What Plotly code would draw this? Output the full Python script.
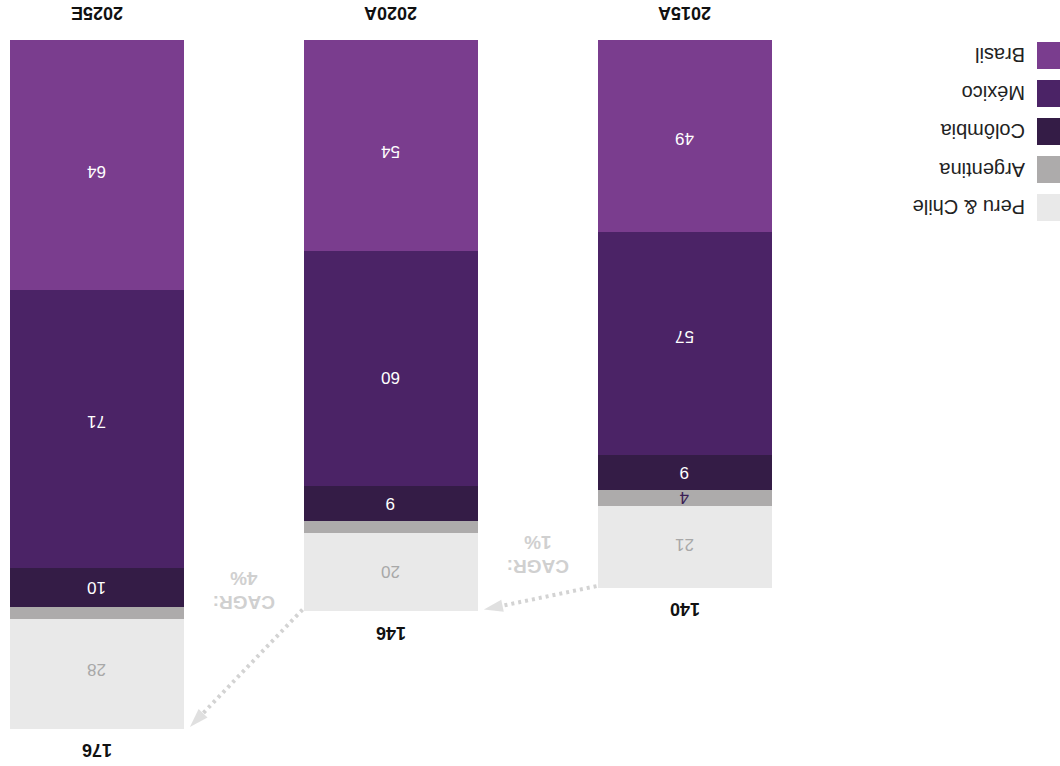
import plotly.graph_objects as go

categories = ["2015A", "2020A", "2025E"]
series_names = ["Brasil", "México", "Colômbia", "Argentina", "Peru & Chile"]
brasil = [49, 54, 64]
mexico = [57, 60, 71]
colombia = [9, 9, 10]
argentina = [4, 3, 3]
peru_chile = [21, 20, 28]
totals = [140, 146, 176]
cagr_labels = ["CAGR:<br>1%", "CAGR:<br>4%"]

series_values = [brasil, mexico, colombia, argentina, peru_chile]
colors = ["#7A3D8E", "#4B2366", "#341C46", "#ADABAB", "#E9E9E9"]
label_colors = ["#FFFFFF", "#FFFFFF", "#FFFFFF", "#3B1F55", "#A8A8A8"]
# small on-screen nudges (px, positive = lower on screen) of the value labels
label_nudge = [[2, 6.5, 6.5], [-6.5, 9.5, -7.5], [0, 0, 0], [0, 0, 0], [-2, 0, -3.5]]

FONT = "Liberation Sans, Arial, sans-serif"
W, H = 1060, 766
xpos = list(range(len(categories)))
bar_w = 0.592
hw = bar_w / 2

fig = go.Figure()
for name, vals, col in zip(series_names, series_values, colors):
    fig.add_trace(go.Bar(x=xpos, y=vals, name=name, marker=dict(color=col, line=dict(width=0)),
                         width=bar_w, showlegend=False, hoverinfo="skip"))

annotations = []
cum = [0] * len(categories)
for vals, lc, nud in zip(series_values, label_colors, label_nudge):
    for i, v in enumerate(vals):
        if v >= 4:
            annotations.append(dict(x=xpos[i], y=cum[i] + v / 2, xref="x", yref="y", text=str(v),
                                    showarrow=False, textangle=180, yshift=-nud[i],
                                    font=dict(family=FONT, size=17, color=lc)))
        cum[i] += v

for i, c in enumerate(categories):
    annotations.append(dict(x=xpos[i], y=0, xref="x", yref="y", text="<b>%s</b>" % c, showarrow=False,
                            textangle=180, yshift=27, font=dict(family=FONT, size=18, color="#111111")))
    annotations.append(dict(x=xpos[i], y=totals[i], xref="x", yref="y", text="<b>%d</b>" % totals[i],
                            showarrow=False, textangle=180, yshift=-22,
                            font=dict(family=FONT, size=18, color="#111111")))

cagr_shift = [33, 21]
for i in range(len(categories) - 1):
    xs = xpos[i] + hw + 0.005
    ys = totals[i] - 0.4
    xe = xpos[i + 1] - hw - 0.02
    ye = totals[i + 1] - 0.4
    fig.add_trace(go.Scatter(x=[xs, xe], y=[ys, ye], mode="lines+markers",
                             line=dict(color="#D3D3D3", width=4, dash="3px,4px"),
                             marker=dict(symbol="arrow", size=[0, 20], angleref="previous",
                                         color="#D3D3D3", line=dict(width=0)),
                             showlegend=False, hoverinfo="skip"))
    annotations.append(dict(x=xpos[i] + 0.5, y=totals[i], xref="x", yref="y", text="<b>%s</b>" % cagr_labels[i],
                            showarrow=False, textangle=180, yshift=cagr_shift[i],
                            font=dict(family=FONT, size=19, color="#D0D0D0")))

shapes = []
for k, (name, col) in enumerate(zip(series_names, colors)):
    top = 42 + 38 * k
    shapes.append(dict(type="rect", xref="paper", yref="paper", x0=1037 / W, x1=1.0,
                       y0=1 - (top + 27) / H, y1=1 - top / H, fillcolor=col, line=dict(width=0)))
    annotations.append(dict(x=1027 / W, y=1 - (top + 13.5) / H, xref="paper", yref="paper", text=name,
                            showarrow=False, textangle=180, xanchor="right", yanchor="middle",
                            font=dict(family=FONT, size=20, color="#222222")))

scale_y = 3.912
ytop = -40 / scale_y
ybot = ytop + H / scale_y
x_left = 685 / 294
x_right = x_left - W / 294

fig.update_layout(
    width=W, height=H, margin=dict(l=0, r=0, t=0, b=0),
    barmode="stack", bargap=0, plot_bgcolor="white", paper_bgcolor="white",
    xaxis=dict(range=[x_left, x_right], visible=False, fixedrange=True),
    yaxis=dict(range=[ybot, ytop], visible=False, fixedrange=True),
    annotations=annotations, shapes=shapes, hovermode=False,
)

fig.write_html("out.html", config={"displayModeBar": False},
               post_script="document.body.style.margin='0px';document.body.style.overflow='hidden';")
